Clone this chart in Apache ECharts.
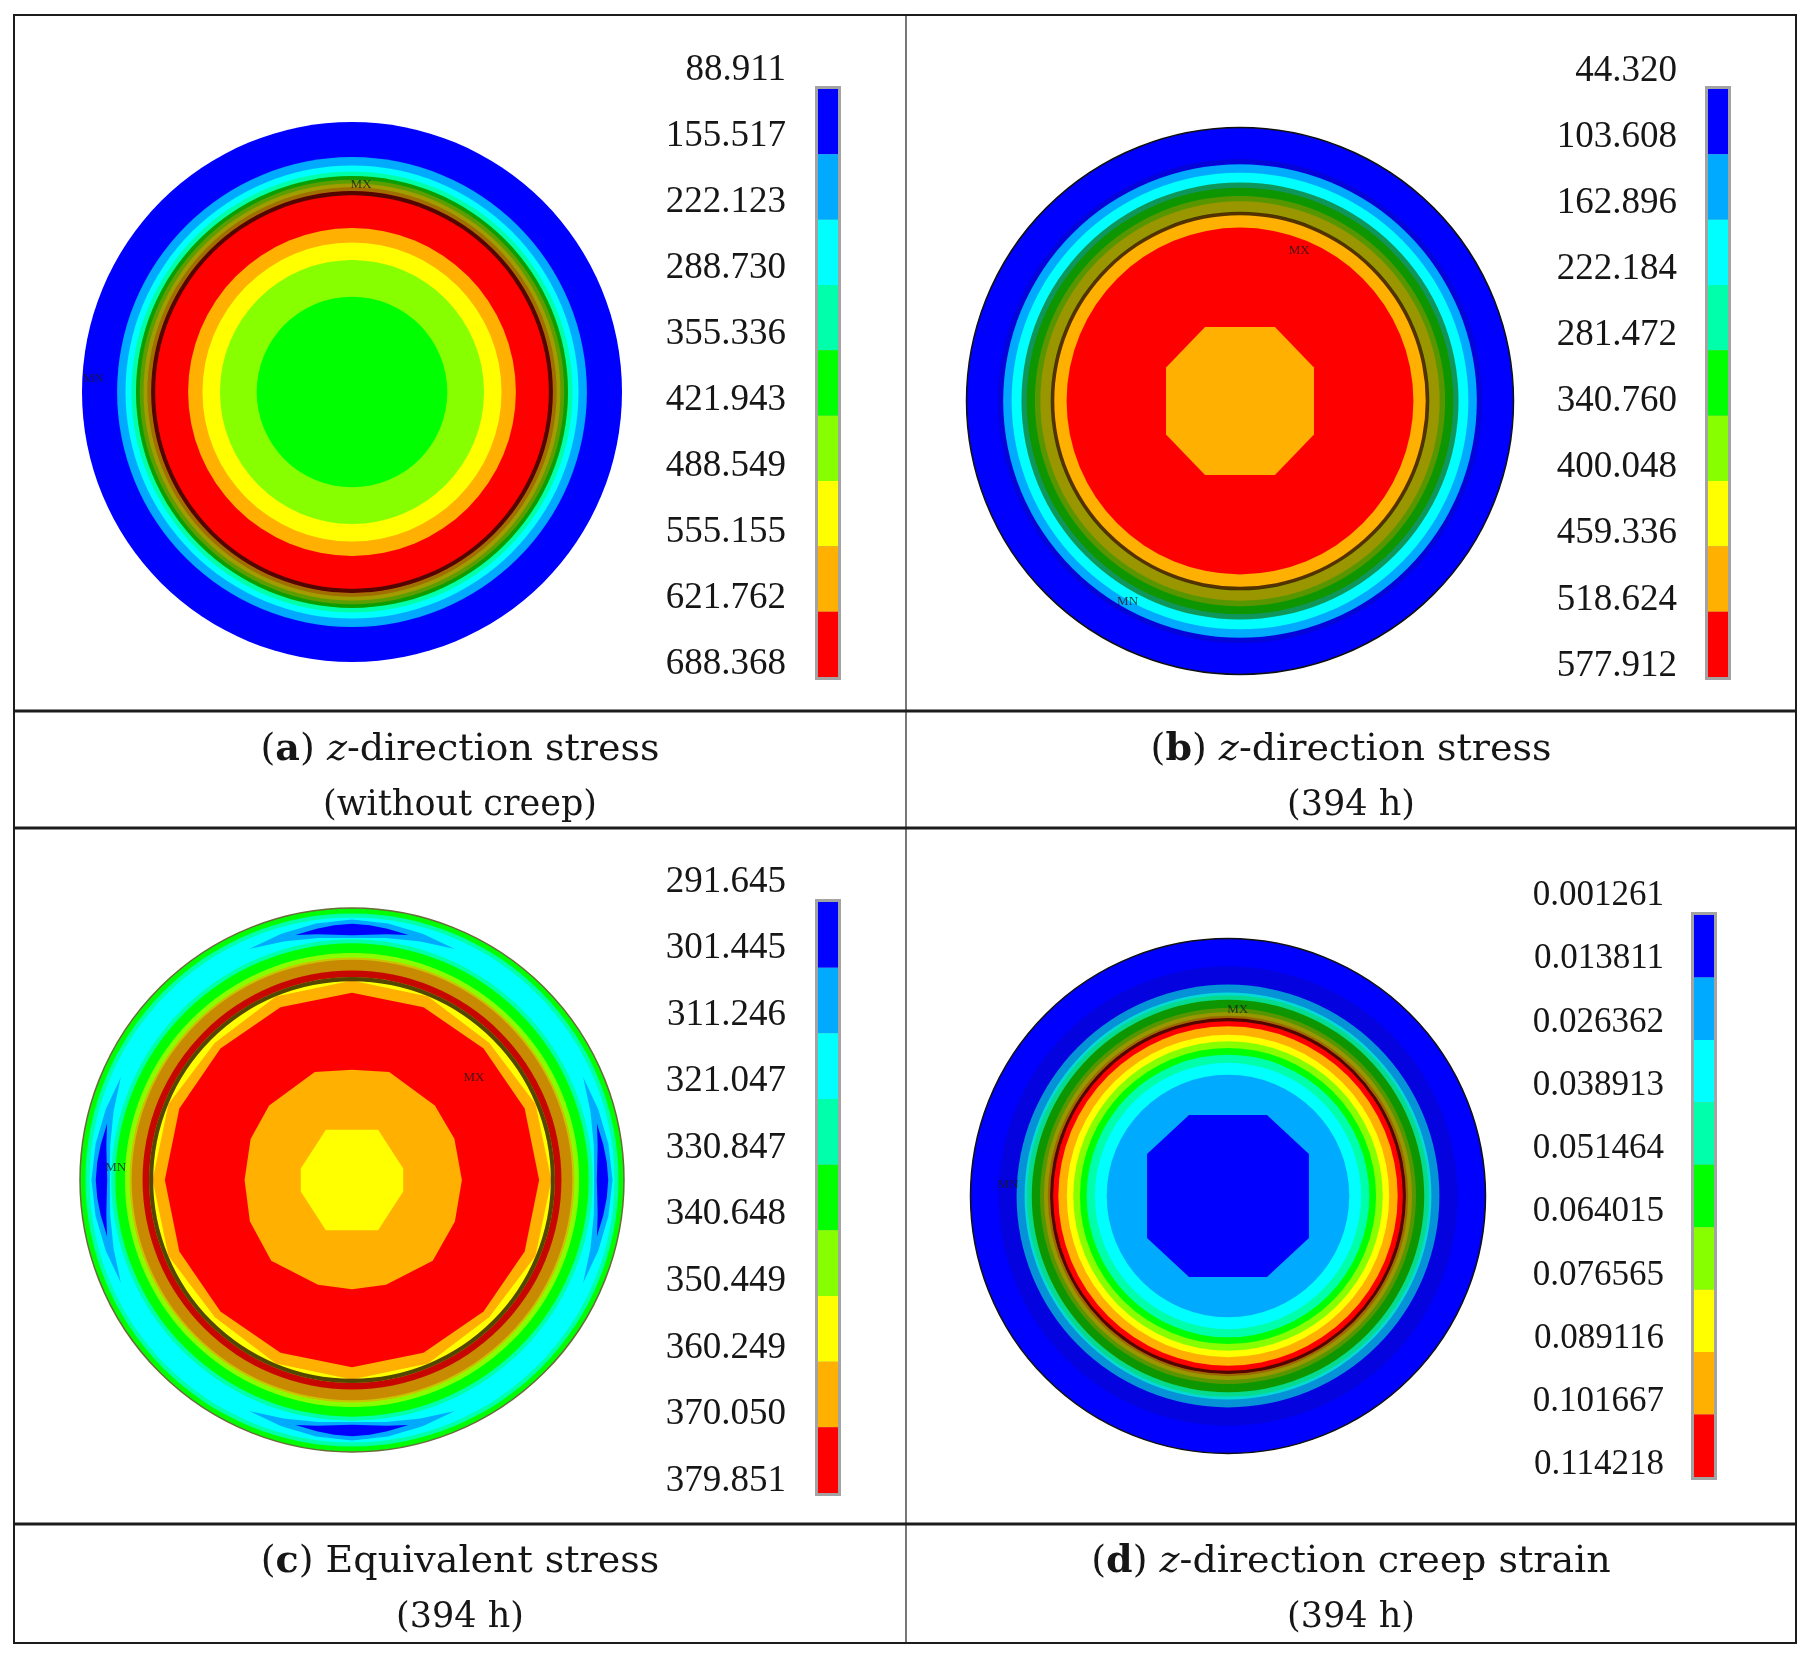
<!DOCTYPE html>
<html>
<head>
<meta charset="utf-8">
<title>Contour results</title>
<script src="https://cdn.jsdelivr.net/npm/echarts@6/dist/echarts.min.js"></script>
<style>
  html, body { margin: 0; padding: 0; background: #ffffff; }
  #chart { width: 1809px; height: 1658px; }
</style>
</head>
<body>
<div id="chart"></div>
<script>
// ANSYS 9 step contour palette, level 1 (lowest) .. level 9 (highest)
var palette = ['#0000ff', '#00aaff', '#00ffff', '#00ffaa', '#00ff00', '#88ff00', '#ffff00', '#ffb000', '#ff0000'];

// (a) z-direction stress, without creep
var levelsA = ['88.911', '155.517', '222.123', '288.730', '355.336', '421.943', '488.549', '555.155', '621.762', '688.368'];
// [outer radius (1 = rim), contour level]
var bandsA = [[1.000, 1], [0.870, 2], [0.839, 3], [0.817, 4], [0.800, 5], [0.786, 6], [0.772, 7], [0.758, 8], [0.744, 9], [0.607, 8], [0.554, 7], [0.489, 6], [0.353, 5]];
var meshA = [[0.800, 0.744, 0.42]];   // dense element edges darken these rings
var edgeA = [[0.744, 0.729]];
var polysA = [];
var marksA = [['MX', 0.77, 87.5], ['MN', 0.96, 177]];

// (b) z-direction stress, 394 h
var levelsB = ['44.320', '103.608', '162.896', '222.184', '281.472', '340.760', '400.048', '459.336', '518.624', '577.912'];
var bandsB = [[1.000, 1], [0.866, 2], [0.835, 3], [0.799, 4], [0.780, 5], [0.750, 6], [0.730, 7], [0.690, 8], [0.634, 9]];
var meshB = [[0.885, 0.866, 0.15], [0.799, 0.690, 0.45]];
var edgeB = [[0.692, 0.679]];
// [level, [[angle deg, radius], ...]]
var polysB = [[8, [[24.4, 0.297], [64.7, 0.299], [115.3, 0.299], [155.6, 0.297], [204.4, 0.297], [244.7, 0.299], [295.3, 0.299], [335.6, 0.297]]]];
var marksB = [['MX', 0.59, 68.5], ['MN', 0.84, 240.7]];

// (c) Equivalent stress, 394 h
var levelsC = ['291.645', '301.445', '311.246', '321.047', '330.847', '340.648', '350.449', '360.249', '370.050', '379.851'];
var bandsC = [[1.000, 5], [0.980, 4], [0.965, 3], [0.885, 4], [0.870, 5], [0.835, 6], [0.818, 7], [0.810, 8], [0.770, 9], [0.746, 7]];
var meshC = [[0.818, 0.746, 0.25]];
var edgeC = [[0.746, 0.731]];
var polysC = [
  [8, [[0, 0.733], [22.5, 0.730], [45, 0.713], [67.5, 0.730], [90, 0.733], [112.5, 0.730], [135, 0.713], [157.5, 0.730],
       [180, 0.733], [202.5, 0.730], [225, 0.713], [247.5, 0.730], [270, 0.733], [292.5, 0.730], [315, 0.713], [337.5, 0.730]]],
  [9, [[0, 0.688], [22.5, 0.687], [45, 0.684], [67.5, 0.687], [90, 0.688], [112.5, 0.687], [135, 0.684], [157.5, 0.687],
       [180, 0.688], [202.5, 0.687], [225, 0.684], [247.5, 0.687], [270, 0.688], [292.5, 0.687], [315, 0.684], [337.5, 0.687]]],
  [8, [[0, 0.404], [22, 0.406], [42, 0.410], [71, 0.420], [90, 0.405], [109, 0.420], [138, 0.410], [158, 0.402], [180, 0.395],
       [202, 0.405], [225, 0.420], [252, 0.405], [270, 0.402], [288, 0.405], [315, 0.420], [338, 0.408]]],
  [7, [[12.7, 0.193], [62.5, 0.208], [117.5, 0.208], [167.3, 0.193], [192.7, 0.193], [242.5, 0.208], [297.5, 0.208], [347.3, 0.193]]]
];
// low spots on the outer ring at the four axis points
var spotAnglesC = [0, 90, 180, 270];
var spotHaloC = [[-24, 0.930], [-16, 0.942], [-8, 0.952], [0, 0.958], [8, 0.952], [16, 0.942], [24, 0.930], [16, 0.912], [8, 0.898], [0, 0.890], [-8, 0.898], [-16, 0.912]];
var spotCoreC = [[-13, 0.924], [-8, 0.933], [-4, 0.939], [0, 0.942], [4, 0.939], [8, 0.933], [13, 0.924], [8, 0.912], [4, 0.904], [0, 0.900], [-4, 0.904], [-8, 0.912]];
var marksC = [['MX', 0.585, 40], ['MN', 0.87, 177]];

// (d) z-direction creep strain, 394 h
var levelsD = ['0.001261', '0.013811', '0.026362', '0.038913', '0.051464', '0.064015', '0.076565', '0.089116', '0.101667', '0.114218'];
var bandsD = [[1.000, 1], [0.821, 2], [0.790, 3], [0.780, 4], [0.762, 5], [0.730, 6], [0.715, 7], [0.700, 8], [0.691, 9], [0.659, 8], [0.626, 7], [0.601, 6], [0.575, 5], [0.549, 4], [0.517, 3], [0.471, 2]];
var meshD = [[0.892, 0.821, 0.12], [0.821, 0.762, 0.16], [0.762, 0.691, 0.45]];
var edgeD = [[0.691, 0.679]];
var polysD = [[1, [[27.4, 0.354], [64.3, 0.349], [115.7, 0.349], [152.6, 0.354], [207.4, 0.354], [244.3, 0.349], [295.7, 0.349], [332.6, 0.354]]]];
var marksD = [['MX', 0.725, 87], ['MN', 0.855, 177]];

spotAnglesC.forEach(function (a) {
  polysC.push([2, spotHaloC.map(function (p) { return [a + p[0], p[1]]; })]);
  polysC.push([1, spotCoreC.map(function (p) { return [a + p[0], p[1]]; })]);
});

var SERIF = 'Liberation Serif';
var CAPTION_FONT = 'DejaVu Serif';

var panels = [
  { center: [352, 392], R: 270, bands: bandsA, polys: polysA, mesh: meshA, edges: edgeA, marks: marksA, outline: null, levels: levelsA,
    bar: { left: 818, top: 89, height: 588 }, lab: { top: 70, height: 594, margin: 32, fontSize: 37 } },
  { center: [1240, 401], R: 273.5, bands: bandsB, polys: polysB, mesh: meshB, edges: edgeB, marks: marksB, outline: '#111', levels: levelsB,
    bar: { left: 1708, top: 89, height: 588 }, lab: { top: 71, height: 595, margin: 31, fontSize: 37 } },
  { center: [352, 1180], R: 272, bands: bandsC, polys: polysC, mesh: meshC, edges: edgeC, marks: marksC, outline: '#6b6b3c', levels: levelsC,
    bar: { left: 818, top: 902, height: 591 }, lab: { top: 882, height: 599, margin: 32, fontSize: 37 } },
  { center: [1228, 1196], R: 257.5, bands: bandsD, polys: polysD, mesh: meshD, edges: edgeD, marks: marksD, outline: '#111', levels: levelsD,
    bar: { left: 1694, top: 915, height: 562 }, lab: { top: 896, height: 569, margin: 30, fontSize: 35 } }
];

function contourSeries(idx, p) {
  var items = [];
  p.bands.forEach(function (b, i) { items.push({ kind: 'disk', r: b[0], level: b[1], first: i === 0 }); });
  p.polys.forEach(function (q) { items.push({ kind: 'poly', level: q[0], pts: q[1] }); });
  p.mesh.forEach(function (m) { items.push({ kind: 'shade', r: m[0], r0: m[1], alpha: m[2] }); });
  p.edges.forEach(function (e) { items.push({ kind: 'edge', r: e[0], r0: e[1] }); });
  return {
    type: 'custom',
    coordinateSystem: 'polar',
    polarIndex: idx,
    silent: true,
    animation: false,
    data: items.map(function (it) { return [it.r || 0, 0]; }),
    renderItem: function (params, api) {
      var it = items[params.dataIndex];
      var c = api.coord([0, 0]);
      var rad = function (r) { var q = api.coord([r, 0]); return Math.hypot(q[0] - c[0], q[1] - c[1]); };
      if (it.kind === 'disk') {
        return { type: 'circle', z2: params.dataIndex,
          shape: { cx: c[0], cy: c[1], r: rad(it.r) },
          style: { fill: palette[it.level - 1], stroke: it.first && p.outline ? p.outline : null, lineWidth: 1.5 } };
      }
      if (it.kind === 'poly') {
        return { type: 'polygon', z2: params.dataIndex,
          shape: { points: it.pts.map(function (v) { return api.coord([v[1], v[0]]); }) },
          style: { fill: palette[it.level - 1] } };
      }
      if (it.kind === 'shade') {
        return { type: 'ring', z2: params.dataIndex,
          shape: { cx: c[0], cy: c[1], r: rad(it.r), r0: rad(it.r0) },
          style: { fill: 'rgba(30,22,0,' + it.alpha + ')' } };
      }
      return { type: 'ring', z2: params.dataIndex,
        shape: { cx: c[0], cy: c[1], r: rad(it.r), r0: rad(it.r0) },
        style: { fill: 'rgba(25,8,0,0.75)' } };
    }
  };
}

var polar = [], angleAxis = [], radiusAxis = [], grid = [], xAxis = [], yAxis = [], series = [];

panels.forEach(function (p, i) {
  polar.push({ center: p.center, radius: p.R });
  angleAxis.push({ polarIndex: i, type: 'value', min: 0, max: 360, startAngle: 0, clockwise: false, show: false });
  radiusAxis.push({ polarIndex: i, type: 'value', min: 0, max: 1, show: false });
  series.push(contourSeries(i, p));
  series.push({
    type: 'scatter', coordinateSystem: 'polar', polarIndex: i, silent: true, animation: false,
    symbolSize: 1, itemStyle: { color: 'rgba(0,0,0,0)' }, z: 5,
    data: p.marks.map(function (m) { return [m[1], m[2], m[0]]; }),
    label: { show: true, position: 'inside', formatter: function (d) { return d.data[2]; },
      fontFamily: SERIF, fontSize: 13, color: '#1a1a1a' }
  });

  // colour bar
  var g = grid.length;
  grid.push({ left: p.bar.left, top: p.bar.top, width: 20, height: p.bar.height,
    show: true, borderColor: '#a3a3a3', borderWidth: 6, backgroundColor: '#a3a3a3' });
  xAxis.push({ gridIndex: g, type: 'value', min: 0, max: 1, show: false });
  yAxis.push({ gridIndex: g, type: 'value', min: 0, max: 9, inverse: true, show: false });
  series.push({
    type: 'custom', coordinateSystem: 'cartesian2d', xAxisIndex: g, yAxisIndex: g,
    silent: true, animation: false,
    data: palette.map(function (col, k) { return [0, k]; }),
    renderItem: function (params, api) {
      var k = api.value(1);
      var p0 = api.coord([0, k]);
      var p1 = api.coord([1, k + 1]);
      return { type: 'rect', shape: { x: p0[0], y: p0[1], width: p1[0] - p0[0], height: p1[1] - p0[1] },
        style: { fill: palette[k] } };
    }
  });

  // colour bar labels
  var gl = grid.length;
  grid.push({ left: p.bar.left, top: p.lab.top, width: 20, height: p.lab.height, show: false });
  xAxis.push({ gridIndex: gl, type: 'value', min: 0, max: 1, show: false });
  yAxis.push({ gridIndex: gl, type: 'value', min: 0, max: 9, interval: 1, inverse: true,
    axisLine: { show: false }, axisTick: { show: false }, splitLine: { show: false },
    axisLabel: { margin: p.lab.margin, fontFamily: SERIF, fontSize: p.lab.fontSize, color: '#161616',
      formatter: function (v) { return p.levels[Math.round(v)]; } } });
});

function caption(x, y, text, size) {
  return { type: 'text', x: x, y: y, silent: true,
    style: { text: text, fill: '#161616', fontFamily: CAPTION_FONT, fontSize: size,
      textAlign: 'center', textVerticalAlign: 'middle', align: 'center', verticalAlign: 'middle',
      rich: {
        b: { fontFamily: CAPTION_FONT, fontSize: size, fontWeight: 'bold', fill: '#161616' },
        i: { fontFamily: CAPTION_FONT, fontSize: size, fontStyle: 'italic', fill: '#161616' }
      } } };
}

var line = function (x1, y1, x2, y2, w) {
  return { type: 'line', silent: true, shape: { x1: x1, y1: y1, x2: x2, y2: y2 }, style: { stroke: '#1c1c1c', lineWidth: w } };
};

var graphic = [
  { type: 'rect', silent: true, shape: { x: 14, y: 15, width: 1782, height: 1628 }, style: { fill: 'none', stroke: '#1c1c1c', lineWidth: 2 } },
  line(906, 15, 906, 1643, 1.2),
  line(14, 711, 1796, 711, 3),
  line(14, 828, 1796, 828, 3),
  line(14, 1524, 1796, 1524, 3),
  caption(460, 750, '({b|a}) {i|z}-direction stress', 38),
  caption(460, 806, '(without creep)', 35),
  caption(1351, 750, '({b|b}) {i|z}-direction stress', 38),
  caption(1351, 806, '(394 h)', 35),
  caption(460, 1562, '({b|c}) Equivalent stress', 38),
  caption(460, 1618, '(394 h)', 35),
  caption(1351, 1562, '({b|d}) {i|z}-direction creep strain', 38),
  caption(1351, 1618, '(394 h)', 35)
];

var chart = echarts.init(document.getElementById('chart'), null, { renderer: 'canvas' });
chart.setOption({
  backgroundColor: '#ffffff',
  animation: false,
  polar: polar,
  angleAxis: angleAxis,
  radiusAxis: radiusAxis,
  grid: grid,
  xAxis: xAxis,
  yAxis: yAxis,
  series: series,
  graphic: graphic
});
</script>
</body>
</html>
